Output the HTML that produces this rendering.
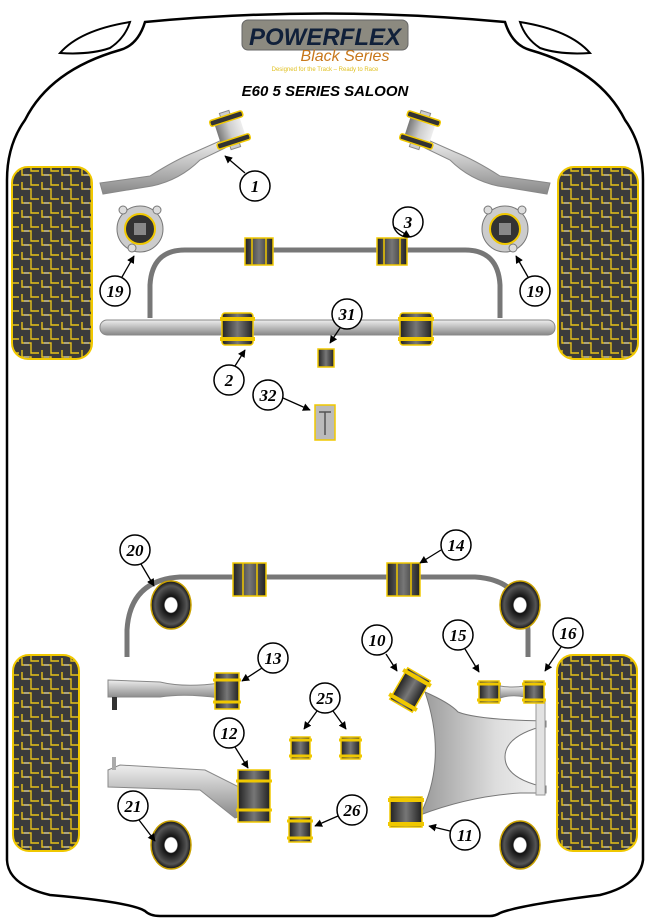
<!DOCTYPE html>
<html><head><meta charset="utf-8"><style>
html,body{margin:0;padding:0;background:#fff;}
svg{display:block}
.lbl{font-family:"Liberation Serif",serif;font-weight:bold;font-style:italic;font-size:17px;text-anchor:middle}
</style></head><body>
<svg width="650" height="919" viewBox="0 0 650 919" xmlns="http://www.w3.org/2000/svg">
<defs>
<pattern id="tread" width="20" height="14" patternUnits="userSpaceOnUse">
<rect width="20" height="14" fill="#3b3b3b"/>
<path d="M2 0 V7 H11 V14 M11 0 V3 H19" stroke="#e6c21a" stroke-width="1.4" fill="none"/>
<path d="M4 7 H9" stroke="#bbb" stroke-width="1.2"/>
</pattern>
<linearGradient id="metal" x1="0" y1="0" x2="0" y2="1"><stop offset="0" stop-color="#eee"/><stop offset=".5" stop-color="#bbb"/><stop offset="1" stop-color="#888"/></linearGradient>
<linearGradient id="metalh" x1="0" y1="0" x2="1" y2="0"><stop offset="0" stop-color="#777"/><stop offset=".5" stop-color="#ccc"/><stop offset="1" stop-color="#eee"/></linearGradient>
<linearGradient id="plate" x1="0" y1="0" x2="1" y2="0"><stop offset="0" stop-color="#999"/><stop offset=".6" stop-color="#ddd"/><stop offset="1" stop-color="#f2f2f2"/></linearGradient>
<linearGradient id="rub" x1="0" y1="0" x2="1" y2="0"><stop offset="0" stop-color="#222"/><stop offset=".5" stop-color="#777"/><stop offset="1" stop-color="#222"/></linearGradient>
<radialGradient id="ring"><stop offset=".3" stop-color="#fff"/><stop offset=".35" stop-color="#111"/><stop offset=".8" stop-color="#555"/><stop offset="1" stop-color="#111"/></radialGradient>
<marker id="ar" viewBox="0 0 10 10" refX="9" refY="5" markerWidth="6" markerHeight="6" orient="auto"><path d="M0 0 L10 5 L0 10z" fill="#000"/></marker>
</defs>

<!-- body outline -->
<path d="M145 22 Q325 5 505 22 Q512 45 530 50 Q600 70 625 120 Q643 145 643 180 L643 860 Q640 885 600 895 Q520 905 500 913 Q495 916 490 916 L160 916 Q150 916 145 911 Q130 902 50 895 Q8 885 7 860 L7 180 Q7 145 25 120 Q50 70 120 50 Q138 45 145 22Z" fill="none" stroke="#000" stroke-width="2.5"/>
<path d="M60 53 Q80 30 130 22 Q125 38 110 48 Q90 55 60 53Z" fill="none" stroke="#000" stroke-width="2"/>
<path d="M590 53 Q570 30 520 22 Q525 38 540 48 Q560 55 590 53Z" fill="none" stroke="#000" stroke-width="2"/>

<!-- logo -->
<rect x="242" y="20" width="166" height="30" rx="6" fill="#8c8a80" stroke="#666"/>
<text x="325" y="45" font-family="Liberation Sans,sans-serif" font-weight="bold" font-style="italic" font-size="24" fill="#10203a" text-anchor="middle">POWERFLEX</text>
<text x="345" y="61" font-family="Liberation Sans,sans-serif" font-style="italic" font-size="16" fill="#c8781c" text-anchor="middle">Black Series</text>
<text x="325" y="71" font-family="Liberation Sans,sans-serif" font-size="6" fill="#e0c020" text-anchor="middle">Designed for the Track – Ready to Race</text>
<text x="325" y="96" font-family="Liberation Sans,sans-serif" font-weight="bold" font-style="italic" font-size="15" fill="#000" text-anchor="middle">E60 5 SERIES SALOON</text>

<!-- tires -->
<rect x="12" y="167" width="80" height="192" rx="16" fill="url(#tread)" stroke="#f0c800" stroke-width="2"/>
<rect x="558" y="167" width="80" height="192" rx="16" fill="url(#tread)" stroke="#f0c800" stroke-width="2"/>
<rect x="13" y="655" width="66" height="196" rx="16" fill="url(#tread)" stroke="#f0c800" stroke-width="2"/>
<rect x="557" y="655" width="80" height="196" rx="16" fill="url(#tread)" stroke="#f0c800" stroke-width="2"/>

<!-- upper arms -->
<path d="M100 183 L150 176 Q175 160 195 152 L222 140 L225 148 L200 160 Q180 180 152 186 L103 194Z" fill="url(#metal)" stroke="#888"/>
<path d="M550 183 L500 176 Q475 160 455 152 L428 140 L425 148 L450 160 Q470 180 498 186 L547 194Z" fill="url(#metal)" stroke="#888"/>
<g transform="rotate(-18 230 130)">
<rect x="225" y="111" width="10" height="6" fill="#ccc" stroke="#888"/><rect x="225" y="143" width="10" height="6" fill="#ccc" stroke="#888"/>
<rect x="217" y="115" width="26" height="30" fill="url(#metalh)"/>
<rect x="213" y="115" width="34" height="6" rx="2" fill="#333" stroke="#f0c800" stroke-width="1.5"/>
<rect x="213" y="139" width="34" height="6" rx="2" fill="#333" stroke="#f0c800" stroke-width="1.5"/>
</g>
<g transform="rotate(18 420 130)">
<rect x="415" y="111" width="10" height="6" fill="#ccc" stroke="#888"/><rect x="415" y="143" width="10" height="6" fill="#ccc" stroke="#888"/>
<rect x="407" y="115" width="26" height="30" fill="url(#metalh)"/>
<rect x="403" y="115" width="34" height="6" rx="2" fill="#333" stroke="#f0c800" stroke-width="1.5"/>
<rect x="403" y="139" width="34" height="6" rx="2" fill="#333" stroke="#f0c800" stroke-width="1.5"/>
</g>

<!-- front anti-roll bar -->
<path d="M150 318 L150 285 Q152 250 185 250 L465 250 Q498 250 500 285 L500 318" fill="none" stroke="#777" stroke-width="5"/>
<rect x="100" y="320" width="455" height="15" rx="7" fill="url(#metal)" stroke="#888"/>
<g stroke="#f0c800" stroke-width="1.5">
<rect x="245" y="238" width="28" height="27" fill="url(#rub)"/><line x1="252" y1="238" x2="252" y2="265"/><line x1="266" y1="238" x2="266" y2="265"/>
<rect x="377" y="238" width="30" height="27" fill="url(#rub)"/><line x1="384" y1="238" x2="384" y2="265"/><line x1="400" y1="238" x2="400" y2="265"/>
<rect x="222" y="313" width="31" height="32" rx="3" fill="url(#rub)"/><line x1="220" y1="319" x2="255" y2="319" stroke-width="4"/><line x1="220" y1="339" x2="255" y2="339" stroke-width="4"/>
<rect x="400" y="313" width="32" height="32" rx="3" fill="url(#rub)"/><line x1="398" y1="319" x2="434" y2="319" stroke-width="4"/><line x1="398" y1="339" x2="434" y2="339" stroke-width="4"/>
<rect x="318" y="349" width="16" height="18" fill="url(#rub)"/>
<rect x="315" y="405" width="20" height="35" fill="#bbb"/><line x1="319" y1="412" x2="331" y2="412" stroke="#555"/><line x1="325" y1="412" x2="325" y2="435" stroke="#555"/>
</g>

<!-- strut mounts 19 -->
<g><circle cx="140" cy="229" r="23" fill="#ccc" stroke="#777"/><circle cx="123" cy="210" r="4" fill="#ddd" stroke="#777"/><circle cx="157" cy="210" r="4" fill="#ddd" stroke="#777"/><circle cx="132" cy="248" r="4" fill="#ddd" stroke="#777"/><circle cx="140" cy="229" r="15" fill="#333" stroke="#f0c800" stroke-width="2"/><rect x="134" y="223" width="12" height="12" fill="#888"/></g>
<g><circle cx="505" cy="229" r="23" fill="#ccc" stroke="#777"/><circle cx="488" cy="210" r="4" fill="#ddd" stroke="#777"/><circle cx="522" cy="210" r="4" fill="#ddd" stroke="#777"/><circle cx="513" cy="248" r="4" fill="#ddd" stroke="#777"/><circle cx="505" cy="229" r="15" fill="#333" stroke="#f0c800" stroke-width="2"/><rect x="499" y="223" width="12" height="12" fill="#888"/></g>

<!-- rear anti-roll bar -->
<path d="M127 657 L127 630 Q130 580 180 577 L475 577 Q525 580 528 630 L528 657" fill="none" stroke="#777" stroke-width="5"/>
<g stroke="#f0c800" stroke-width="1.5">
<rect x="233" y="563" width="33" height="33" fill="url(#rub)"/><line x1="243" y1="563" x2="243" y2="596"/><line x1="257" y1="563" x2="257" y2="596"/>
<rect x="387" y="563" width="33" height="33" fill="url(#rub)"/><line x1="397" y1="563" x2="397" y2="596"/><line x1="411" y1="563" x2="411" y2="596"/>
</g>
<g stroke="#c8a000" stroke-width="1.5">
<ellipse cx="171" cy="605" rx="20" ry="24" fill="url(#ring)"/>
<ellipse cx="520" cy="605" rx="20" ry="24" fill="url(#ring)"/>
<ellipse cx="171" cy="845" rx="20" ry="24" fill="url(#ring)"/>
<ellipse cx="520" cy="845" rx="20" ry="24" fill="url(#ring)"/>
</g>

<!-- arm 13 -->
<path d="M108 680 L160 682 Q185 688 220 683 L220 698 Q185 693 160 697 L108 697Z" fill="url(#metal)" stroke="#888"/>
<rect x="112" y="697" width="5" height="13" fill="#333"/>
<!-- arm 12 -->
<path d="M108 770 L120 765 L205 770 L245 790 L245 815 L235 818 L200 790 L108 787Z" fill="url(#metal)" stroke="#888"/>
<rect x="112" y="757" width="4" height="13" fill="#aaa"/>

<!-- wishbone -->
<path d="M425 692 Q450 703 458 712 Q478 720 546 721 L546 727 L540 727 Q505 737 505 757 Q505 777 540 786 L546 786 L546 793 L520 793 Q470 796 420 815 Q448 760 425 692Z" fill="url(#plate)" stroke="#777"/>
<path d="M500 686 Q512 688 525 686 L525 697 Q512 694 500 698Z" fill="url(#metal)" stroke="#888"/>
<rect x="536" y="700" width="9" height="95" fill="#e2e2e2" stroke="#999"/>

<!-- rear bushings -->
<g stroke="#f0c800" stroke-width="1.5">
<rect x="215" y="673" width="24" height="36" fill="url(#rub)"/><line x1="213" y1="680" x2="241" y2="680" stroke-width="3"/><line x1="213" y1="702" x2="241" y2="702" stroke-width="3"/>
<rect x="238" y="770" width="32" height="52" fill="url(#rub)"/><line x1="236" y1="781" x2="272" y2="781" stroke-width="3"/><line x1="236" y1="810" x2="272" y2="810" stroke-width="3"/>
<rect x="289" y="817" width="22" height="25" fill="url(#rub)"/><line x1="287" y1="821" x2="313" y2="821" stroke-width="3"/><line x1="287" y1="838" x2="313" y2="838" stroke-width="3"/>
<rect x="291" y="737" width="19" height="22" fill="url(#rub)"/><line x1="289" y1="740" x2="312" y2="740" stroke-width="3"/><line x1="289" y1="756" x2="312" y2="756" stroke-width="3"/>
<rect x="341" y="737" width="19" height="22" fill="url(#rub)"/><line x1="339" y1="740" x2="362" y2="740" stroke-width="3"/><line x1="339" y1="756" x2="362" y2="756" stroke-width="3"/>
<rect x="479" y="681" width="20" height="22" fill="url(#rub)"/><line x1="477" y1="684" x2="501" y2="684" stroke-width="3"/><line x1="477" y1="700" x2="501" y2="700" stroke-width="3"/>
<rect x="524" y="681" width="20" height="22" fill="url(#rub)"/><line x1="522" y1="684" x2="546" y2="684" stroke-width="3"/><line x1="522" y1="700" x2="546" y2="700" stroke-width="3"/>
<rect x="390" y="797" width="32" height="30" fill="url(#rub)"/><line x1="388" y1="800" x2="424" y2="800" stroke-width="4"/><line x1="388" y1="824" x2="424" y2="824" stroke-width="4"/>
<g transform="rotate(30 410 690)"><rect x="397" y="672" width="26" height="36" fill="url(#rub)"/><line x1="394" y1="676" x2="426" y2="676" stroke-width="4"/><line x1="394" y1="704" x2="426" y2="704" stroke-width="4"/></g>
</g>

<!-- labels -->
<g stroke="#000" stroke-width="1.5" fill="#fff">
<circle cx="255" cy="186" r="15"/><circle cx="408" cy="222" r="15"/><circle cx="115" cy="291" r="15"/><circle cx="535" cy="291" r="15"/>
<circle cx="347" cy="314" r="15"/><circle cx="229" cy="380" r="15"/><circle cx="268" cy="395" r="15"/>
<circle cx="135" cy="550" r="15"/><circle cx="456" cy="545" r="15"/><circle cx="377" cy="640" r="15"/><circle cx="458" cy="635" r="15"/><circle cx="568" cy="633" r="15"/>
<circle cx="273" cy="658" r="15"/><circle cx="325" cy="698" r="15"/><circle cx="229" cy="733" r="15"/><circle cx="133" cy="806" r="15"/><circle cx="352" cy="810" r="15"/><circle cx="465" cy="835" r="15"/>
</g>
<g stroke="#000" stroke-width="1.3" marker-end="url(#ar)" fill="none">
<line x1="245" y1="173" x2="225" y2="156"/><line x1="394" y1="227" x2="410" y2="237"/><line x1="122" y1="277" x2="134" y2="256"/><line x1="528" y1="277" x2="516" y2="256"/>
<line x1="340" y1="328" x2="330" y2="343"/><line x1="235" y1="366" x2="245" y2="350"/><line x1="283" y1="398" x2="310" y2="410"/>
<line x1="141" y1="564" x2="154" y2="586"/><line x1="441" y1="550" x2="420" y2="563"/><line x1="386" y1="654" x2="397" y2="671"/><line x1="465" y1="649" x2="479" y2="672"/><line x1="561" y1="647" x2="545" y2="671"/>
<line x1="262" y1="668" x2="242" y2="681"/><line x1="317" y1="711" x2="304" y2="729"/><line x1="333" y1="711" x2="346" y2="729"/><line x1="235" y1="747" x2="248" y2="768"/>
<line x1="139" y1="820" x2="155" y2="841"/><line x1="338" y1="816" x2="315" y2="826"/><line x1="450" y1="831" x2="429" y2="826"/>
</g>
<text class="lbl" x="255" y="192">1</text><text class="lbl" x="408" y="228">3</text><text class="lbl" x="115" y="297">19</text><text class="lbl" x="535" y="297">19</text>
<text class="lbl" x="347" y="320">31</text><text class="lbl" x="229" y="386">2</text><text class="lbl" x="268" y="401">32</text>
<text class="lbl" x="135" y="556">20</text><text class="lbl" x="456" y="551">14</text><text class="lbl" x="377" y="646">10</text><text class="lbl" x="458" y="641">15</text><text class="lbl" x="568" y="639">16</text>
<text class="lbl" x="273" y="664">13</text><text class="lbl" x="325" y="704">25</text><text class="lbl" x="229" y="739">12</text><text class="lbl" x="133" y="812">21</text><text class="lbl" x="352" y="816">26</text><text class="lbl" x="465" y="841">11</text>
</svg>
</body></html>
